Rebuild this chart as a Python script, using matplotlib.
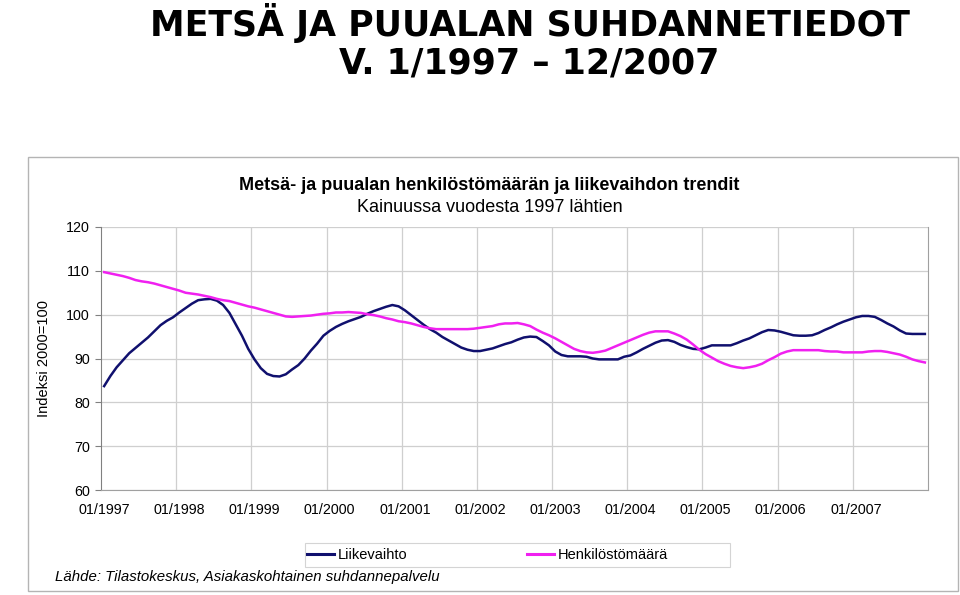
import matplotlib
matplotlib.use('Agg')
import matplotlib.pyplot as plt
from matplotlib.patches import Rectangle

plt.rcParams['font.family'] = ['Liberation Sans', 'DejaVu Sans']

# kuukausittaiset trendit 01/1997 - 12/2007, indeksi 2000=100
liikevaihto = [
    83.7, 86.0, 88.0, 89.6, 91.2, 92.4, 93.6, 94.8, 96.2, 97.6, 98.6, 99.4,
    100.5, 101.5, 102.5, 103.3, 103.5, 103.6, 103.2, 102.2, 100.4, 97.8, 95.2, 92.2,
    89.8, 87.8, 86.5, 86.0, 85.9, 86.4, 87.5, 88.5, 90.0, 91.8, 93.4, 95.2,
    96.3, 97.2, 97.9, 98.5, 99.0, 99.5, 100.2, 100.8, 101.3, 101.8, 102.2, 101.9,
    101.0, 99.9, 98.8, 97.7, 96.7, 95.9, 94.9, 94.1, 93.3, 92.5, 92.0, 91.7,
    91.7, 92.0, 92.3, 92.8, 93.3, 93.7, 94.3, 94.8, 95.0, 94.9, 94.0, 93.0,
    91.6, 90.8, 90.5, 90.5, 90.5, 90.4, 90.0, 89.8, 89.8, 89.8, 89.8, 90.4,
    90.7, 91.4, 92.2, 92.9, 93.6, 94.1, 94.2, 93.8, 93.1, 92.6, 92.2, 92.1,
    92.5, 93.0, 93.0, 93.0, 93.0, 93.5, 94.1, 94.6, 95.3, 96.0, 96.5, 96.4,
    96.1, 95.7, 95.3, 95.2, 95.2, 95.3, 95.8, 96.5, 97.1, 97.8, 98.4, 98.9,
    99.4, 99.7, 99.7, 99.5, 98.8, 98.0, 97.3, 96.4, 95.7, 95.6, 95.6, 95.6,
]
henkilosto = [
    109.7, 109.4, 109.1, 108.8, 108.4, 107.9, 107.6, 107.4, 107.1, 106.7, 106.3, 105.9,
    105.5, 105.0, 104.8, 104.6, 104.3, 104.0, 103.6, 103.3, 103.1, 102.7, 102.3, 101.9,
    101.6, 101.2, 100.8, 100.4, 100.0, 99.6, 99.5, 99.6, 99.7, 99.8, 100.0, 100.2,
    100.3, 100.5, 100.5, 100.6, 100.5, 100.4, 100.1, 99.9, 99.6, 99.2, 98.9, 98.5,
    98.3, 98.0, 97.6, 97.2, 96.9, 96.7, 96.7, 96.7, 96.7, 96.7, 96.7, 96.8,
    97.0, 97.2, 97.4, 97.8, 98.0, 98.0, 98.1, 97.8, 97.4, 96.6, 95.9, 95.3,
    94.6, 93.8, 93.0, 92.2, 91.7, 91.4, 91.3, 91.5, 91.8, 92.4, 93.0, 93.6,
    94.2, 94.8, 95.4, 95.9, 96.2, 96.2, 96.2, 95.7, 95.1, 94.3, 93.2, 92.0,
    91.0, 90.2, 89.4, 88.8, 88.3, 88.0, 87.8, 88.0, 88.3, 88.8, 89.6, 90.3,
    91.1, 91.6, 91.9, 91.9, 91.9, 91.9, 91.9, 91.7, 91.6, 91.6, 91.4, 91.4,
    91.4, 91.4, 91.6, 91.7, 91.7, 91.5, 91.2, 90.9, 90.4, 89.8, 89.4, 89.1,
]
vuodet = ['01/1997', '01/1998', '01/1999', '01/2000', '01/2001', '01/2002',
          '01/2003', '01/2004', '01/2005', '01/2006', '01/2007']
y_ticks = [60, 70, 80, 90, 100, 110, 120]

kk = list(range(len(liikevaihto)))

fig = plt.figure(figsize=(9.6, 5.95), dpi=100, facecolor='white')

# kaavioalueen kehys
fig.patches.append(Rectangle((28 / 960, 4 / 595), 930 / 960, 434 / 595,
                             transform=fig.transFigure, fill=False,
                             edgecolor='#b4b4b4', linewidth=1.0))
# selitteen kehys
fig.patches.append(Rectangle((305 / 960, 1 - 567 / 595), 425 / 960, 24 / 595,
                             transform=fig.transFigure, fill=False,
                             edgecolor='#d4d4d4', linewidth=0.8))

# otsikko
fig.text(0.552, 0.962, 'METSÄ JA PUUALAN SUHDANNETIEDOT', ha='center', va='center',
         fontsize=25, fontweight='bold', family='DejaVu Sans')
fig.text(0.551, 0.893, 'V. 1/1997 – 12/2007', ha='center', va='center',
         fontsize=25, fontweight='bold', family='DejaVu Sans')

fig.text(0.51, 0.689, 'Metsä- ja puualan henkilöstömäärän ja liikevaihdon trendit',
         ha='center', va='center', fontsize=13, fontweight='bold')
fig.text(0.51, 0.652, 'Kainuussa vuodesta 1997 lähtien',
         ha='center', va='center', fontsize=13)

ax = fig.add_axes([101 / 960, 1 - 490 / 595, 827 / 960, 263 / 595])
l1, = ax.plot(kk, liikevaihto, color='#10106e', linewidth=1.8, label='Liikevaihto')
l2, = ax.plot(kk, henkilosto, color='#f020f0', linewidth=1.8, label='Henkilöstömäärä')

ax.set_xlim(-0.5, len(kk) - 0.5)
ax.set_ylim(60, 120)
ax.set_yticks(y_ticks)
ax.set_xticks(range(0, len(kk), 12))
ax.set_xticklabels(vuodet)
ax.set_xticks([k - 0.5 for k in range(12, len(kk), 12)], minor=True)
ax.tick_params(axis='x', which='both', length=0, pad=9, labelsize=10.3)
ax.tick_params(axis='y', length=4, width=0.8, color='#808080', pad=4, labelsize=10.3)
ax.grid(axis='y', color='#cfcfcf', linewidth=0.9)
ax.grid(axis='x', which='minor', color='#cfcfcf', linewidth=0.9)
ax.set_axisbelow(True)

ax.spines['top'].set_visible(False)
ax.spines['left'].set_color('#808080')
ax.spines['bottom'].set_color('#a0a0a0')
ax.spines['right'].set_color('#a0a0a0')

ax.set_ylabel('Indeksi 2000=100', fontsize=10.5)
ax.yaxis.set_label_coords(-0.06, 0.5)

leg = fig.legend(handles=[l1, l2], loc='center left', ncol=2,
                 bbox_to_anchor=(307 / 960, 1 - 555 / 595), fontsize=10.5,
                 frameon=False, handlelength=1.85, handletextpad=0.25,
                 columnspacing=8.2, borderpad=0, borderaxespad=0)
for h in leg.get_lines():
    h.set_linewidth(2.2)

fig.text(55 / 960, 1 - 577 / 595, 'Lähde: Tilastokeskus, Asiakaskohtainen suhdannepalvelu',
         ha='left', va='center', fontsize=10.8, style='italic')

fig.savefig('out.png', dpi=100, facecolor='white')
